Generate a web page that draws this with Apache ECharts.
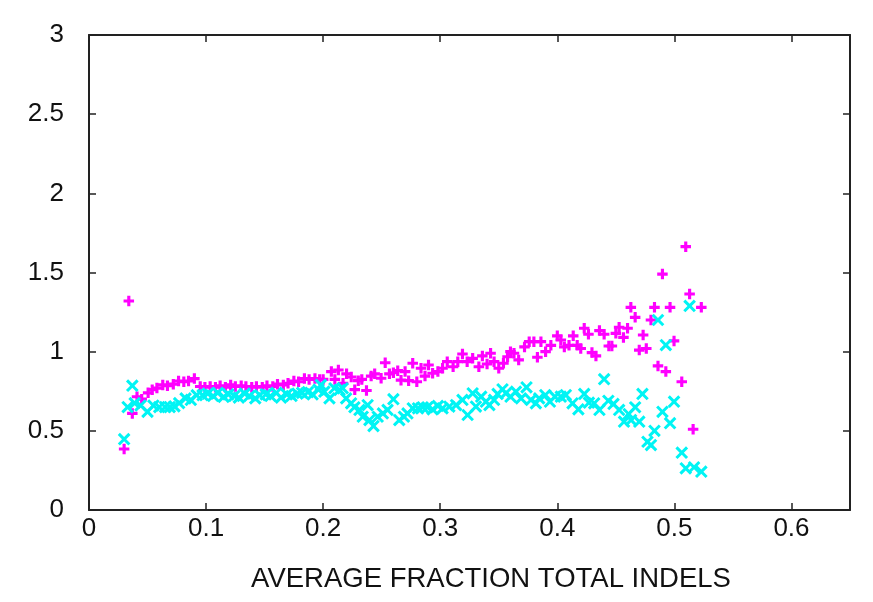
<!DOCTYPE html>
<html>
<head>
<meta charset="utf-8">
<script src="https://cdn.jsdelivr.net/npm/echarts@6/dist/echarts.min.js"></script>
<style>
  html, body { margin: 0; padding: 0; background: #fff; }
  #chart { width: 873px; height: 602px; }
</style>
</head>
<body>
<div id="chart"></div>
<script>
// magenta "+" series
const plusX = [
  0.030, 0.034, 0.037, 0.041, 0.045, 0.0505, 0.054, 0.058, 0.063, 0.067, 0.072, 0.0765, 0.081, 0.085, 0.090, 0.095, 0.099,
  0.1035, 0.108, 0.112, 0.1165, 0.121, 0.125, 0.130, 0.134, 0.139, 0.143, 0.148, 0.152, 0.157, 0.161, 0.166, 0.170, 0.175, 0.179, 0.184, 0.188, 0.193, 0.197,
  0.200, 0.207, 0.210, 0.213, 0.217, 0.220, 0.224, 0.227, 0.230, 0.233, 0.237, 0.241, 0.244, 0.2495, 0.253, 0.2566, 0.260, 0.2637, 0.2665, 0.270, 0.273, 0.2765, 0.280, 0.2836, 0.287, 0.290, 0.2935, 0.298,
  0.302, 0.306, 0.311, 0.315, 0.319, 0.323, 0.3277, 0.333, 0.336, 0.340, 0.343, 0.346, 0.350, 0.354, 0.3575, 0.360, 0.363, 0.367, 0.372, 0.376, 0.380, 0.383, 0.386, 0.390, 0.3945,
  0.400, 0.403, 0.406, 0.410, 0.4136, 0.417, 0.420, 0.423, 0.4266, 0.4296, 0.433, 0.436, 0.440, 0.444, 0.4466, 0.450, 0.4528, 0.4565, 0.460, 0.4628, 0.4665, 0.470, 0.4733, 0.476, 0.480, 0.483, 0.486, 0.4898, 0.4927, 0.4963, 0.4997, 0.5063, 0.5097, 0.513, 0.516, 0.523
];
const plusY = [
  0.385, 1.32, 0.61, 0.715, 0.70, 0.74, 0.76, 0.77, 0.79, 0.785, 0.795, 0.815, 0.81, 0.815, 0.83, 0.78, 0.775,
  0.78, 0.775, 0.785, 0.775, 0.79, 0.78, 0.785, 0.78, 0.775, 0.78, 0.775, 0.785, 0.78, 0.795, 0.79, 0.80, 0.815, 0.81, 0.83, 0.825, 0.83, 0.825,
  0.825, 0.874, 0.825, 0.884, 0.80, 0.86, 0.84, 0.76, 0.817, 0.825, 0.755, 0.846, 0.86, 0.832, 0.93, 0.86, 0.867, 0.88, 0.82, 0.874, 0.817, 0.927, 0.81, 0.895, 0.846, 0.916, 0.864, 0.874,
  0.895, 0.937, 0.905, 0.937, 0.985, 0.937, 0.958, 0.905, 0.973, 0.922, 0.99, 0.937, 0.895, 0.927, 0.968, 1.0, 0.99, 0.948, 1.03, 1.063, 1.063, 0.965, 1.063, 1.0, 1.04,
  1.10, 1.074, 1.03, 1.04, 1.10, 1.04, 1.02, 1.148, 1.11, 0.994, 0.973, 1.133, 1.11, 1.036, 1.036, 1.116, 1.154, 1.09, 1.148, 1.28, 1.217, 1.01, 1.105, 1.02, 1.20, 1.28, 0.91, 1.49, 0.874, 1.28, 1.068, 0.81, 1.663, 1.364, 0.51, 1.28
];

// cyan "x" series
const crossX = [
  0.030, 0.033, 0.037, 0.039, 0.044, 0.050, 0.055, 0.060, 0.065, 0.069, 0.073, 0.077, 0.0825, 0.087, 0.092, 0.097, 0.1015,
  0.106, 0.110, 0.115, 0.119, 0.124, 0.128, 0.133, 0.137, 0.142, 0.146, 0.151, 0.155, 0.160, 0.164, 0.169, 0.173, 0.178, 0.182, 0.187, 0.191, 0.196,
  0.198, 0.201, 0.2054, 0.2096, 0.214, 0.2167, 0.2196, 0.2239, 0.2267, 0.231, 0.2338, 0.238, 0.2395, 0.243, 0.2466, 0.251, 0.255, 0.260, 0.265, 0.269, 0.272, 0.2765, 0.281, 0.285, 0.289, 0.2935, 0.298,
  0.302, 0.3078, 0.3135, 0.319, 0.3234, 0.3277, 0.3305, 0.335, 0.339, 0.342, 0.346, 0.349, 0.3532, 0.356, 0.360, 0.3647, 0.369, 0.3737, 0.3775, 0.3817, 0.3845, 0.3897, 0.3937, 0.398,
  0.403, 0.4073, 0.413, 0.418, 0.423, 0.427, 0.4315, 0.436, 0.440, 0.4436, 0.448, 0.4528, 0.457, 0.461, 0.463, 0.4665, 0.470, 0.4727, 0.477, 0.480, 0.483, 0.486, 0.4898, 0.4927, 0.4963, 0.4997, 0.5063, 0.5097, 0.513, 0.5168, 0.523
];
const crossY = [
  0.447, 0.65, 0.785, 0.675, 0.66, 0.62, 0.66, 0.65, 0.65, 0.65, 0.655, 0.675, 0.705, 0.695, 0.725, 0.725, 0.735,
  0.72, 0.74, 0.715, 0.73, 0.72, 0.71, 0.735, 0.72, 0.705, 0.725, 0.73, 0.72, 0.74, 0.71, 0.73, 0.72, 0.735, 0.74, 0.745, 0.73, 0.76,
  0.79, 0.747, 0.705, 0.769, 0.758, 0.769, 0.705, 0.674, 0.649, 0.632, 0.589, 0.663, 0.568, 0.53, 0.589, 0.61, 0.632, 0.70, 0.568, 0.589, 0.61, 0.642, 0.642, 0.649, 0.649, 0.636, 0.657,
  0.642, 0.653, 0.663, 0.695, 0.60, 0.737, 0.653, 0.716, 0.684, 0.663, 0.695, 0.733, 0.762, 0.737, 0.716, 0.747, 0.705, 0.775, 0.695, 0.674, 0.705, 0.726, 0.684, 0.716,
  0.716, 0.726, 0.674, 0.636, 0.733, 0.678, 0.674, 0.632, 0.826, 0.69, 0.67, 0.632, 0.558, 0.606, 0.568, 0.649, 0.558, 0.733, 0.431, 0.41, 0.50, 1.20, 0.62, 1.042, 0.548, 0.684, 0.362, 0.263, 1.289, 0.27, 0.242
];

const xTicks = [0, 0.1, 0.2, 0.3, 0.4, 0.5, 0.6];
const yTicks = [0, 0.5, 1, 1.5, 2, 2.5, 3];

const plusPath = 'path://M3.5,0H6.5V3.5H10V6.5H6.5V10H3.5V6.5H0V3.5H3.5Z';
const crossPath = 'path://M4,0H6V4H10V6H6V10H4V6H0V4H4Z';

const font = 'Liberation Sans, Arial, sans-serif';
const lineStyle = { color: '#222', width: 2 };

function xAxisCfg(pos, showLabel) {
  return {
    type: 'value', position: pos, min: 0, max: 0.65, interval: 0.1,
    splitLine: { show: false },
    axisLine: { show: true, onZero: false, lineStyle: lineStyle },
    axisTick: { show: true, inside: true, length: 7, lineStyle: { color: '#222', width: 1.5 },
      customValues: xTicks },
    axisLabel: { show: showLabel, customValues: xTicks, margin: 6, fontSize: 26, color: '#111', fontFamily: font,
      formatter: v => String(v) }
  };
}
function yAxisCfg(pos, showLabel) {
  return {
    type: 'value', position: pos, min: 0, max: 3, interval: 0.5,
    splitLine: { show: false },
    axisLine: { show: true, onZero: false, lineStyle: lineStyle },
    axisTick: { show: true, inside: true, length: 7, lineStyle: { color: '#222', width: 1.5 },
      customValues: yTicks },
    axisLabel: { show: showLabel, customValues: yTicks, margin: 25, fontSize: 26, color: '#111', fontFamily: font,
      formatter: v => String(v) }
  };
}

const chart = echarts.init(document.getElementById('chart'), null, { renderer: 'canvas' });
const bottomX = xAxisCfg('bottom', true);
bottomX.name = 'AVERAGE FRACTION TOTAL INDELS';
bottomX.nameLocation = 'middle';
bottomX.nameGap = 55;
bottomX.nameTextStyle = { fontSize: 27.5, color: '#111', fontFamily: font, padding: [0, 0, 0, 43] };

chart.setOption({
  animation: false,
  backgroundColor: '#fff',
  grid: { left: 89, right: 23, top: 35, bottom: 92 },
  xAxis: [bottomX, xAxisCfg('top', false)],
  yAxis: [yAxisCfg('left', true), yAxisCfg('right', false)],
  series: [
    {
      type: 'scatter', name: 'plus',
      data: plusX.map((x, i) => [x, plusY[i]]),
      symbol: plusPath, symbolSize: 10.5,
      itemStyle: { color: '#ff00ff', opacity: 1 }
    },
    {
      type: 'scatter', name: 'cross',
      data: crossX.map((x, i) => [x, crossY[i]]),
      symbol: crossPath, symbolSize: 15, symbolRotate: 45,
      itemStyle: { color: '#00f4f4', opacity: 1 }
    }
  ]
});
</script>
</body>
</html>
